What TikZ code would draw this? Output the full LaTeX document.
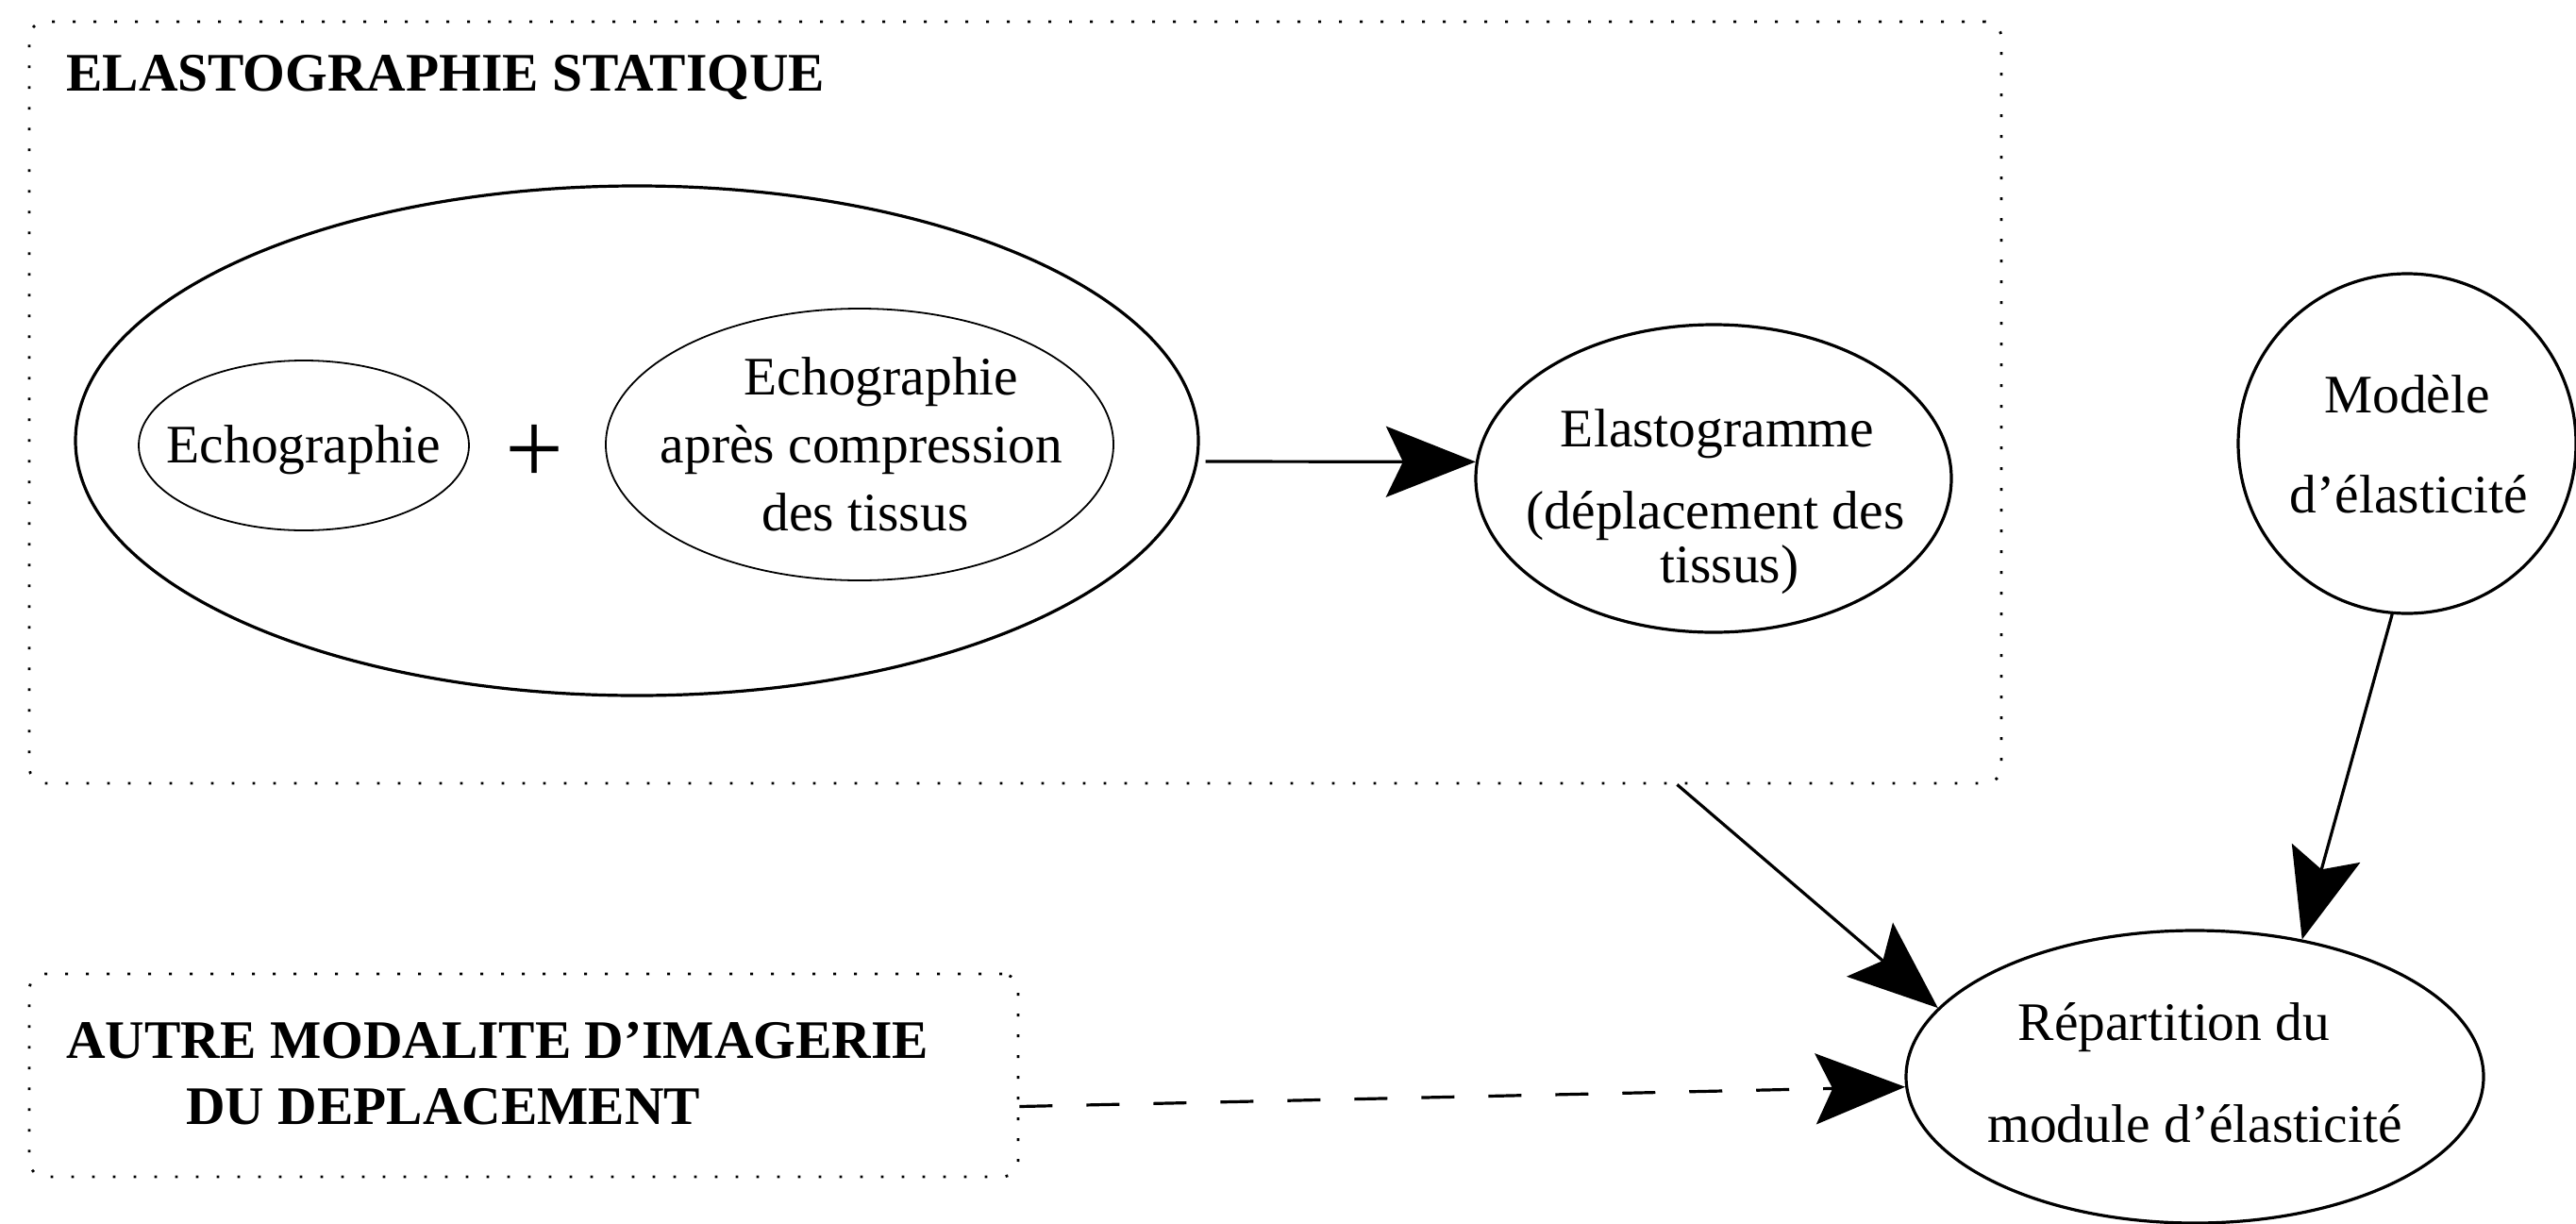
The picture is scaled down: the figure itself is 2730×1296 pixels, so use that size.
\documentclass[tikz,border=0pt]{standalone}
\usepackage{fontspec}
\setmainfont{Liberation Serif}
\usetikzlibrary{shapes.geometric,arrows.meta,calc}
\begin{document}
\begin{tikzpicture}[x=0.5pt,y=-0.5pt,
  txt/.style={font=\fontsize{28.75pt}{34pt}\selectfont, inner sep=0pt, anchor=base},
  btxt/.style={font=\fontsize{28.75pt}{34pt}\selectfont\bfseries, inner sep=0pt, anchor=base west},
  ell/.style={ellipse, draw, inner sep=0pt, line width=1.6pt},
  thinell/.style={ellipse, draw, inner sep=0pt, line width=0.9pt},
  dotbox/.style={rectangle, draw, rounded corners=8.5pt, line width=1.4pt, dash pattern=on 1.4pt off 9.6pt, inner sep=0pt},
  arr/.style={line width=1.6pt, -{Stealth[length=47.5pt,width=37.5pt,inset=9pt]}},
]
\useasboundingbox (0,0) rectangle (2730,1296);

% dotted frames
\node[dotbox, minimum width=1045pt, minimum height=403.5pt] (box) at (1076,426.5) {};
\node[dotbox, minimum width=524pt, minimum height=107.5pt] (autre) at (555,1139.5) {};

\node[btxt] (title) at (70,96) {ELASTOGRAPHIE STATIQUE};
\node[btxt] (autreA) at (70,1121) {AUTRE MODALITE D’IMAGERIE};
\node[btxt] (autreB) at (197,1191) {DU DEPLACEMENT};

% ellipses
\node[ell, minimum width=595pt, minimum height=270pt] (bigell) at (675,467) {};
\node[thinell, minimum width=175pt, minimum height=90pt] (echoA) at (322,472) {};
\node[thinell, minimum width=269pt, minimum height=144pt] (echoB) at (911,471) {};
\node[ell, minimum width=252pt, minimum height=163pt] (elasto) at (1816,507) {};
\node[ell, minimum width=179pt, minimum height=180pt] (modele) at (2551,470) {};
\node[ell, minimum width=306pt, minimum height=155pt] (repart) at (2326,1141) {};

% texts
\node[txt] (tEchoA) at (322,490) {Echographie};
\node[font=\fontsize{55pt}{60pt}\selectfont, inner sep=0pt] (plus) at (567,481) {+};
\node[txt] (tEchoB1) at (934,418) {Echographie};
\node[txt] (tEchoB2) at (913,490) {après compression};
\node[txt] (tEchoB3) at (917,562) {des tissus};
\node[txt] (tEl1) at (1820,473) {Elastogramme};
\node[txt] (tEl2) at (1818,560) {(déplacement des};
\node[txt] (tEl3) at (1833,617) {tissus)};
\node[txt] (tMo1) at (2551,437) {Modèle};
\node[txt] (tMo2) at (2553,543) {d’élasticité};
\node[txt] (tRe1) at (2304,1102) {Répartition du};
\node[txt] (tRe2) at (2326,1210) {module d’élasticité};

% connectors
\draw[arr] ([xshift=3pt,yshift=-11pt]bigell.east) -- (elasto.176);
\draw[arr] ([xshift=-172.5pt]box.south east) -- (repart.165);
\draw[arr] (modele.-95) -- (repart.52);
\draw[arr, dash pattern=on 17.5pt off 18pt] ([yshift=-16.5pt]autre.east) -- (repart.182);
\end{tikzpicture}
\end{document}
